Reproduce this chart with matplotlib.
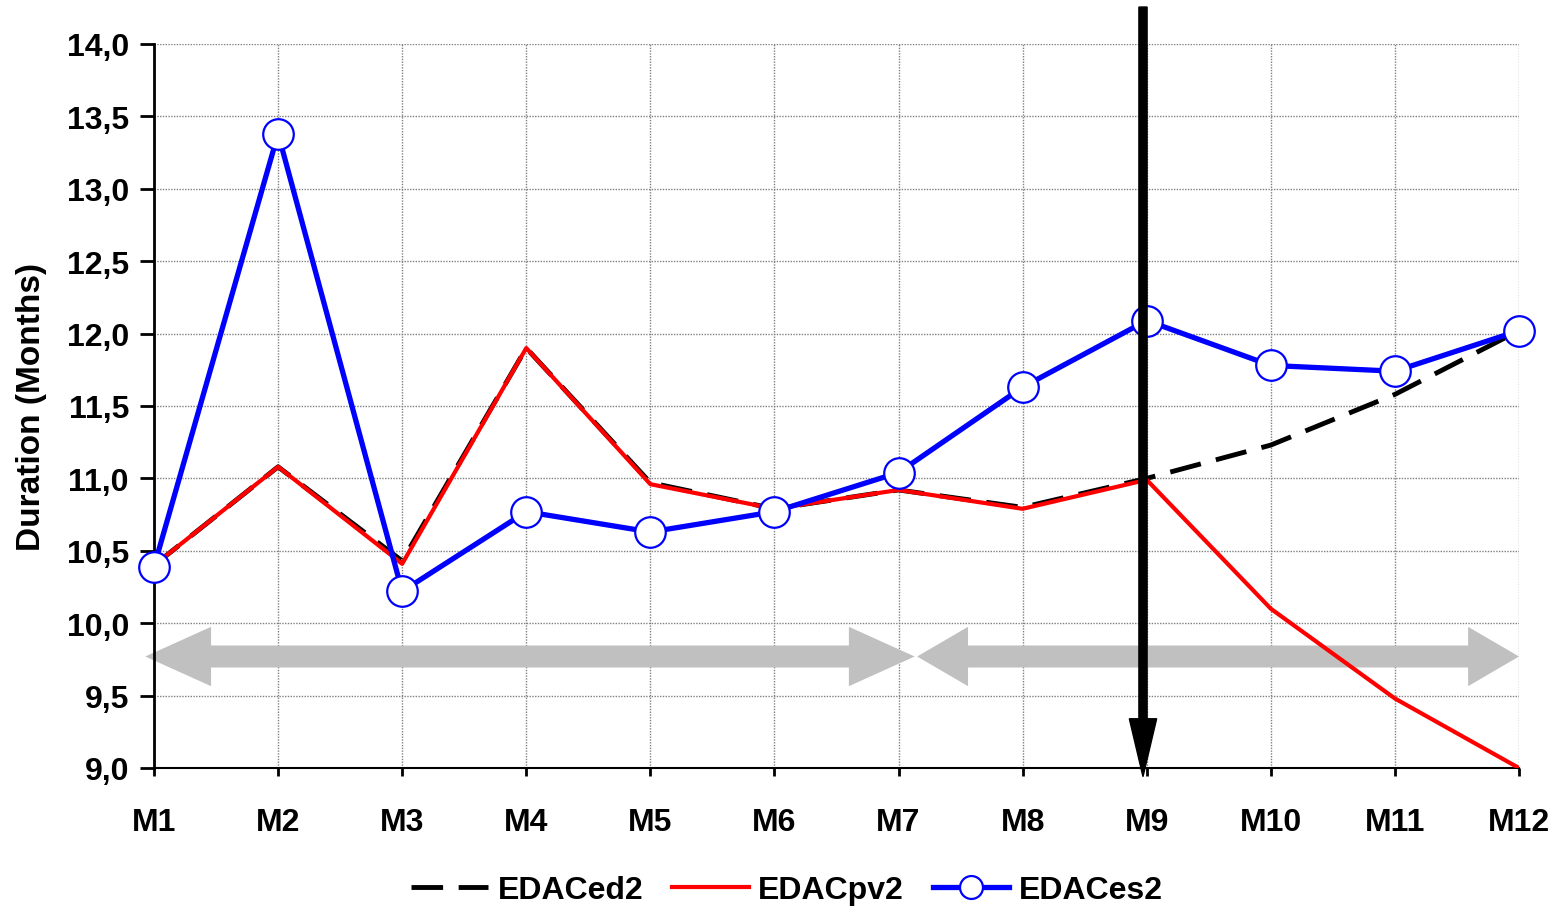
import matplotlib
matplotlib.use("Agg")
import matplotlib.pyplot as plt
from matplotlib.patches import Polygon, FancyArrow
from matplotlib.ticker import FuncFormatter
import numpy as np

plt.rcParams['font.family'] = ['Liberation Sans', 'DejaVu Sans']
plt.rcParams['font.weight'] = 'bold'

# monthly durations
months = ['M1', 'M2', 'M3', 'M4', 'M5', 'M6', 'M7', 'M8', 'M9', 'M10', 'M11', 'M12']
edac_ed2 = [10.40, 11.08, 10.43, 11.90, 10.97, 10.79, 10.92, 10.80, 11.00, 11.23, 11.58, 12.02]
edac_pv2 = [10.40, 11.08, 10.41, 11.90, 10.96, 10.79, 10.92, 10.79, 10.99, 10.10, 9.48, 9.00]
edac_es2 = [10.39, 13.38, 10.22, 10.77, 10.63, 10.77, 11.04, 11.63, 12.09, 11.78, 11.74, 12.02]

# period spans (in month index, with head length) and the cut-off month
periods = [(0.93, 7.13, 0.53), (7.15, 12.0, 0.41)]
period_y = 9.77
cutoff = 8.97


def double_arrow(ax, x0, x1, y, head_l, shaft=0.076, head_w=0.205, color='#C0C0C0'):
    pts = [(x0, y), (x0 + head_l, y + head_w), (x0 + head_l, y + shaft),
           (x1 - head_l, y + shaft), (x1 - head_l, y + head_w), (x1, y),
           (x1 - head_l, y - head_w), (x1 - head_l, y - shaft),
           (x0 + head_l, y - shaft), (x0 + head_l, y - head_w)]
    p = Polygon(pts, closed=True, facecolor=color, edgecolor='none',
                clip_on=False, zorder=1.5)
    ax.add_patch(p)


fig = plt.figure(figsize=(15.65, 9.12), dpi=100)
ax = fig.add_axes([0.0984, 0.1568, 0.8722, 0.7939])

x = np.arange(1, len(months) + 1)

ax.plot(x, edac_ed2, color='black', lw=3.5, dashes=(6.5, 3.2), label='EDACed2', zorder=3)
ax.plot(x, edac_pv2, color='red', lw=3, label='EDACpv2', zorder=4)
ax.plot(x, edac_es2, color='blue', lw=3.8, marker='o', markersize=22,
        markerfacecolor='white', markeredgecolor='blue', markeredgewidth=1.6,
        label='EDACes2', zorder=5, clip_on=False)

for x0, x1, hl in periods:
    double_arrow(ax, x0, x1, period_y, hl)

arr = FancyArrow(cutoff, 14.255, 0, 8.94 - 14.255, width=0.066, head_width=0.22,
                 head_length=0.40, length_includes_head=True, color='black',
                 clip_on=False, zorder=6)
ax.add_patch(arr)

ax.set_xlim(1, 12)
ax.set_ylim(9.0, 14.0)
ax.set_xticks(x)
ax.set_xticklabels(months)
ax.set_yticks(np.arange(9.0, 14.01, 0.5))
ax.yaxis.set_major_formatter(FuncFormatter(lambda v, p: f'{v:.1f}'.replace('.', ',')))
ax.tick_params(axis='both', labelsize=23, width=2, colors='black')
ax.tick_params(axis='y', length=10, pad=8)
ax.tick_params(axis='x', length=6, pad=22)

ax.grid(True, color='#808080', linestyle=(0, (1, 1)), lw=1.0)
ax.set_axisbelow(True)
for s in ['top', 'right']:
    ax.spines[s].set_visible(False)
ax.spines['left'].set_linewidth(2)
ax.spines['bottom'].set_linewidth(1.5)

ax.set_ylabel('Duration (Months)', fontsize=24, fontweight='bold', labelpad=14)

fig.legend(loc='lower center', bbox_to_anchor=(0.503, -0.025), ncol=3, frameon=False,
           fontsize=23, handlelength=2.4, handletextpad=0.3, columnspacing=0.9,
           markerscale=0.75)

fig.savefig('out.png', dpi=100)
